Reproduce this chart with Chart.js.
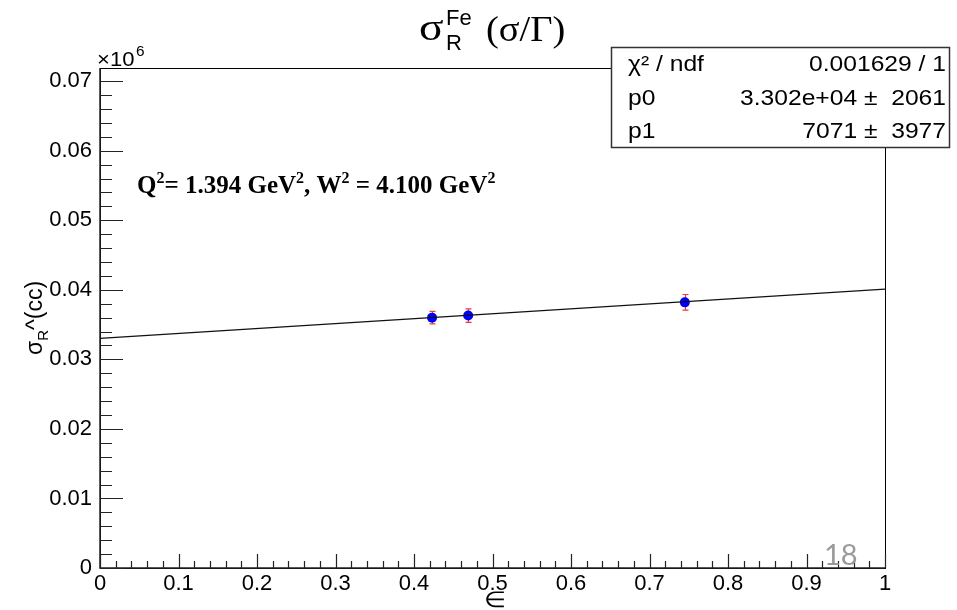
<!DOCTYPE html>
<html>
<head>
<meta charset="utf-8">
<script src="https://cdn.jsdelivr.net/npm/chart.js@4/dist/chart.umd.min.js"></script>
<style>
  html, body { margin: 0; padding: 0; background: #fff; }
  #wrap { width: 957px; height: 610px; }
</style>
</head>
<body>
<div id="wrap"><canvas id="c" width="957" height="610"></canvas></div>
<script>
(function(){
    "use strict";

    // data
    const epsValues = [0.423, 0.469, 0.745];
    const sigmaValues = [0.0360, 0.0363, 0.0382];
    const sigmaErrors = [0.0009, 0.00097, 0.00113];
    // fit line end points (p0 + p1*eps at eps = 0 and 1)
    const fitX = [0, 1];
    const fitY = [0.03302, 0.04009];
    const statsRows = [
        ['\u03c7\u00b2 / ndf', '0.001629 / 1'],
        ['p0', '3.302e+04 \u00b1  2061'],
        ['p1', '7071 \u00b1  3977']
    ];

    const sans = '"Liberation Sans", Arial, sans-serif';
    const serif = '"Liberation Serif", "DejaVu Serif", serif';

    function drawRun(ctx, parts, x, y) {
        // parts: [text, font, dy]
        let cx = x;
        parts.forEach(p => {
            ctx.font = p[1];
            ctx.fillText(p[0], cx, y + (p[2] || 0));
            cx += ctx.measureText(p[0]).width;
        });
        return cx - x;
    }
    function runWidth(ctx, parts) {
        let w = 0;
        parts.forEach(p => { ctx.font = p[1]; w += ctx.measureText(p[0]).width; });
        return w;
    }
    // the slide stretched the plot a little sideways
    function wideText(ctx, text, x, y, align, sx) {
        ctx.save();
        ctx.translate(x, y);
        ctx.scale(sx, 1);
        ctx.textAlign = align;
        ctx.fillText(text, 0, 0);
        ctx.restore();
    }

    const rootFrame = {
        id: 'rootFrame',
        beforeDatasetsDraw(chart) {
            const ctx = chart.ctx, xs = chart.scales.x, ys = chart.scales.y;
            ctx.save();
            ctx.strokeStyle = '#f03838'; ctx.lineWidth = 1.2;
            epsValues.forEach((e, i) => {
                const px = Math.round(xs.getPixelForValue(e)) + 0.5;
                const lo = ys.getPixelForValue(sigmaValues[i] - sigmaErrors[i]);
                const hi = ys.getPixelForValue(sigmaValues[i] + sigmaErrors[i]);
                ctx.beginPath();
                ctx.moveTo(px, lo); ctx.lineTo(px, hi);
                ctx.moveTo(px - 3, lo); ctx.lineTo(px + 3, lo);
                ctx.moveTo(px - 3, hi); ctx.lineTo(px + 3, hi);
                ctx.stroke();
            });
            ctx.restore();
        },
        afterDraw(chart) {
            const ctx = chart.ctx, a = chart.chartArea, xs = chart.scales.x, ys = chart.scales.y;
            ctx.save();
            // frame
            ctx.strokeStyle = '#000'; ctx.lineWidth = 1;
            ctx.strokeRect(Math.round(a.left) + 0.5, Math.round(a.top) + 0.5, Math.round(a.right - a.left), Math.round(a.bottom - a.top));
            // axes
            ctx.strokeStyle = '#222'; ctx.lineWidth = 1.5;
            ctx.beginPath();
            ctx.moveTo(a.left, a.top); ctx.lineTo(a.left, a.bottom); ctx.lineTo(a.right, a.bottom);
            ctx.stroke();
            // inward ticks
            ctx.lineWidth = 1.2;
            ctx.beginPath();
            for (let k = 0; k <= 50; k++) {
                const v = k * 0.02;
                const px = Math.round(xs.getPixelForValue(v)) + 0.5;
                const len = (k % 5 === 0) ? 14 : 7;
                ctx.moveTo(px, a.bottom); ctx.lineTo(px, a.bottom - len);
            }
            for (let k = 0; k <= 35; k++) {
                const v = k * 0.002;
                const py = Math.round(ys.getPixelForValue(v)) + 0.5;
                const len = (k % 5 === 0) ? 23 : 12;
                ctx.moveTo(a.left, py); ctx.lineTo(a.left + len, py);
            }
            ctx.stroke();

            ctx.fillStyle = '#000';
            ctx.textBaseline = 'alphabetic';
            ctx.textAlign = 'left';

            // title
            ctx.font = '38px ' + serif;
            wideText(ctx, '\u03c3', 419, 40, 'left', 1.2);
            drawRun(ctx, [['Fe', '22px ' + sans]], 446, 25);
            drawRun(ctx, [['R', '22px ' + sans]], 446, 50);
            ctx.font = '36px ' + serif;
            wideText(ctx, '(\u03c3/\u0393)', 486, 41, 'left', 1.07);

            // x10^6
            ctx.font = '21px ' + sans;
            wideText(ctx, '\u00d710', 97, 66, 'left', 1.05);
            ctx.font = '14px ' + sans;
            wideText(ctx, '6', 136, 56, 'left', 1.1);

            // annotation
            const bf = 'bold 25px ' + serif, bs = 'bold 16px ' + serif;
            drawRun(ctx, [['Q', bf], ['2', bs, -10], ['= 1.394 GeV', bf], ['2', bs, -10], [', W', bf], ['2', bs, -10], [' = 4.100 GeV', bf], ['2', bs, -10]], 137, 193);

            // y axis title, rotated
            const yparts = [['\u03c3', '23px ' + sans], ['R', '15px ' + sans, 6], ['^(cc)', '23px ' + sans]];
            ctx.save();
            ctx.translate(42, 318);
            ctx.rotate(-Math.PI / 2);
            drawRun(ctx, yparts, -runWidth(ctx, yparts) / 2, 0);
            ctx.restore();

            // x axis title
            ctx.font = '22px ' + sans;
            wideText(ctx, '\u2208', 495, 607, 'center', 1.15);

            // stats box
            ctx.fillStyle = '#fff';
            ctx.fillRect(611, 47, 339, 101);
            ctx.strokeStyle = '#333'; ctx.lineWidth = 1.5;
            ctx.strokeRect(611.5, 47.5, 338, 100);
            ctx.fillStyle = '#000';
            ctx.font = '22px ' + sans;
            statsRows.forEach((r, i) => {
                const y = 71 + i * 33.5;
                wideText(ctx, r[0], 628, y, 'left', 1.12);
                wideText(ctx, r[1], 946, y, 'right', 1.12);
            });

            // slide number
            ctx.textAlign = 'left';
            ctx.fillStyle = '#9a9a9a';
            ctx.font = '29px Lato, "Open Sans", sans-serif';
            ctx.fillText('18', 824, 565);
            ctx.restore();
        }
    };

    const tickFont = { family: sans, size: 22 };

    new Chart(document.getElementById('c'), {
        type: 'scatter',
        data: {
            datasets: [
                {
                    type: 'line',
                    data: fitX.map((x, i) => ({ x: x, y: fitY[i] })),
                    borderColor: '#111',
                    borderWidth: 1.2,
                    pointRadius: 0,
                    fill: false
                },
                {
                    data: epsValues.map((x, i) => ({ x: x, y: sigmaValues[i] })),
                    backgroundColor: '#0000ff',
                    borderColor: '#0000ff',
                    borderWidth: 0,
                    pointRadius: 5
                }
            ]
        },
        options: {
            responsive: false,
            animation: false,
            layout: { padding: { left: 0, top: 68, right: 72, bottom: 0 } },
            plugins: { legend: { display: false }, tooltip: { enabled: false } },
            scales: {
                x: {
                    type: 'linear', min: 0, max: 1,
                    grid: { display: false, drawTicks: false },
                    border: { display: false },
                    ticks: {
                        stepSize: 0.1, padding: 3, color: '#000', font: tickFont, maxRotation: 0,
                        callback: v => (v === 0 ? '0' : (Math.abs(v - 1) < 1e-9 ? '1' : v.toFixed(1)))
                    },
                    afterFit: s => { s.height = 42; }
                },
                y: {
                    type: 'linear', min: 0, max: 0.0719,
                    grid: { display: false, drawTicks: false },
                    border: { display: false },
                    ticks: {
                        stepSize: 0.01, includeBounds: false, padding: 8, color: '#000', font: tickFont,
                        callback: v => (v === 0 ? '0' : v.toFixed(2))
                    },
                    afterFit: s => { s.width = 100; }
                }
            }
        },
        plugins: [rootFrame]
    });
})();
</script>
</body>
</html>
